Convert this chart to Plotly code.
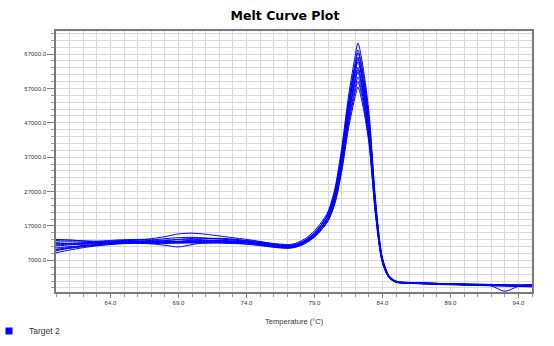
import plotly.graph_objects as go

# Temperature grid (°C)
temperature = [60, 61, 62, 63, 64, 65, 66, 67, 68, 69, 70, 71, 72, 73, 74, 75, 76, 77,
               77.5, 78, 78.5, 79, 79.5, 80, 80.5, 81, 81.5, 82, 82.2, 82.5, 83, 83.5,
               84, 84.5, 85, 85.5, 86, 87, 88, 89, 90, 91, 92, 93, 94, 95]

# Derivative reporter values (thousands), one list per well
well_01 = [12.8, 12.9, 12.7, 12.6, 12.8, 13.0, 13.1, 13.0, 13.3, 13.6, 13.7, 13.5, 13.3, 13.0, 12.8, 12.4, 11.9, 11.6,
           11.8, 12.6, 13.8, 15.6, 18.0, 21.2, 27.8, 39.5, 54.5, 66.5, 70.2, 65.0, 50.5, 24.5,
           7.8, 2.5, 1.0, 0.7, 0.6, 0.5, 0.3, 0.2, 0.1, 0.0, -0.1, -0.2, -0.3, -0.2]
well_02 = [9.2, 10.0, 10.7, 11.2, 11.6, 11.9, 12.1, 12.2, 12.3, 12.5, 12.7, 12.8, 12.7, 12.5, 12.3, 11.9, 11.4, 11.1,
           11.3, 12.0, 13.2, 14.9, 17.3, 20.5, 26.9, 38.2, 53.0, 64.6, 68.2, 63.3, 49.0, 23.6,
           7.5, 2.4, 0.9, 0.6, 0.5, 0.4, 0.3, 0.1, 0.0, -0.1, -0.2, -0.3, -0.4, -0.3]
well_03 = [11.8, 11.9, 12.1, 12.3, 12.4, 12.7, 13.0, 13.3, 13.9, 14.7, 14.9, 14.6, 14.1, 13.6, 13.1, 12.5, 11.8, 11.4,
           11.5, 12.2, 13.4, 15.1, 17.4, 20.6, 26.8, 37.8, 52.4, 63.8, 67.3, 62.4, 48.3, 23.2,
           7.4, 2.3, 0.9, 0.5, 0.4, 0.3, 0.2, 0.1, 0.0, -0.1, -0.2, -0.3, -0.4, -0.4]
well_04 = [10.2, 10.8, 11.3, 11.6, 11.9, 12.1, 12.2, 12.1, 12.2, 12.4, 12.5, 12.4, 12.3, 12.2, 12.0, 11.6, 11.0, 10.7,
           10.9, 11.6, 12.7, 14.3, 16.6, 19.8, 26.0, 37.0, 51.6, 62.8, 66.1, 61.0, 47.4, 22.8,
           7.2, 2.2, 0.8, 0.5, 0.4, 0.2, 0.1, 0.0, -0.1, -0.2, -0.3, -0.4, -0.5, -0.5]
well_05 = [13.1, 12.9, 12.6, 12.4, 12.6, 12.8, 12.7, 12.5, 12.4, 12.5, 12.9, 13.3, 13.4, 13.2, 12.7, 12.1, 11.4, 11.0,
           11.2, 11.9, 13.0, 14.6, 16.8, 19.8, 25.8, 36.4, 50.6, 61.5, 64.7, 59.8, 46.4, 22.3,
           7.0, 2.2, 0.8, 0.6, 0.5, 0.4, 0.3, 0.2, 0.1, 0.0, -0.1, -0.1, -0.2, -0.1]
well_06 = [10.6, 11.0, 11.2, 11.5, 11.8, 12.0, 12.1, 12.3, 12.4, 12.3, 12.1, 12.0, 12.2, 12.3, 12.1, 11.7, 11.2, 10.8,
           11.0, 11.7, 12.7, 14.2, 16.3, 19.2, 25.0, 35.4, 49.4, 60.1, 63.2, 58.4, 45.3, 21.8,
           6.9, 2.1, 0.7, 0.4, 0.3, 0.3, 0.2, 0.1, 0.1, -0.1, -0.4, -2.0, -0.6, -0.6]
well_07 = [12.3, 12.4, 12.3, 12.2, 12.3, 12.5, 12.6, 12.8, 12.9, 13.0, 13.0, 12.9, 12.8, 12.6, 12.4, 12.0, 11.5, 11.2,
           11.4, 12.1, 13.1, 14.6, 16.6, 19.3, 24.8, 34.8, 48.4, 58.8, 61.8, 57.1, 44.3, 21.3,
           6.7, 2.0, 0.7, 0.5, 0.4, 0.2, 0.1, 0.0, -0.1, -0.1, -0.2, -0.3, -0.3, -0.2]
well_08 = [9.8, 10.5, 11.0, 11.4, 11.7, 11.9, 12.0, 11.9, 11.9, 12.0, 12.1, 12.1, 12.0, 11.9, 11.7, 11.3, 10.8, 10.5,
           10.7, 11.3, 12.3, 13.8, 15.8, 18.6, 24.0, 33.8, 47.2, 57.3, 60.3, 55.8, 43.2, 20.8,
           6.5, 2.0, 0.7, 0.4, 0.3, 0.2, 0.0, -0.1, -0.2, -0.3, -0.4, -0.5, -0.6, -0.7]
well_09 = [11.2, 11.5, 11.8, 12.0, 12.1, 12.2, 12.4, 12.6, 12.6, 12.5, 12.4, 12.5, 12.7, 12.6, 12.3, 11.9, 11.3, 11.0,
           11.2, 11.8, 12.7, 14.0, 15.9, 18.4, 23.4, 32.6, 45.2, 54.7, 57.4, 53.2, 41.3, 19.9,
           6.3, 1.9, 0.7, 0.5, 0.4, 0.4, 0.3, 0.2, 0.1, 0.1, 0.0, -0.1, -0.1, 0.0]
well_10 = [11.5, 11.7, 11.9, 12.1, 12.2, 12.4, 12.5, 12.5, 12.7, 13.1, 13.4, 13.4, 13.2, 12.9, 12.6, 12.2, 11.6, 11.3,
           11.5, 12.2, 13.3, 15.0, 17.3, 20.4, 26.4, 37.2, 51.6, 62.4, 65.5, 60.6, 47.0, 22.6,
           7.1, 2.2, 0.8, 0.6, 0.5, 0.3, 0.2, 0.1, 0.0, -0.1, -0.1, -0.2, -0.3, -0.3]
well_11 = [12.0, 11.8, 11.7, 11.8, 12.0, 12.1, 12.0, 11.8, 11.4, 10.9, 11.6, 12.2, 12.5, 12.4, 12.1, 11.7, 11.1, 10.8,
           11.0, 11.7, 12.8, 14.3, 16.4, 19.3, 25.0, 35.3, 49.0, 59.4, 62.5, 57.8, 44.8, 21.6,
           6.8, 2.1, 0.7, 0.5, 0.4, 0.3, 0.2, 0.1, -0.1, -0.2, -0.3, -0.3, -0.4, -0.4]
well_12 = [10.0, 10.6, 11.1, 11.5, 11.8, 12.0, 12.2, 12.2, 12.1, 12.1, 12.2, 12.3, 12.2, 12.0, 11.8, 11.4, 10.9, 10.6,
           10.8, 11.4, 12.4, 13.8, 15.8, 18.5, 23.8, 33.4, 46.4, 56.2, 59.0, 54.6, 42.4, 20.4,
           6.4, 1.9, 0.6, 0.4, 0.3, 0.2, 0.1, 0.0, -0.1, -0.2, -0.2, -0.3, -0.4, -0.4]

wells = [well_01, well_02, well_03, well_04, well_05, well_06,
         well_07, well_08, well_09, well_10, well_11, well_12]

target_name = "Target 2"
x_title = "Temperature (°C)"
line_color = "#0000ff"

fig = go.Figure()
for w in wells:
    fig.add_trace(go.Scatter(
        x=temperature, y=[v * 1000 for v in w], mode="lines",
        line=dict(color=line_color, width=1, shape="spline", smoothing=0.8),
        showlegend=False, hoverinfo="skip"))

# legend entry (square swatch)
fig.add_trace(go.Scatter(
    x=[None], y=[None], mode="markers", name=target_name,
    marker=dict(symbol="square", size=7, color=line_color), showlegend=True))

W, H = 554, 346
L, R, T, B = 56, 532, 31, 292
PW, PH = R - L, B - T

fig.update_layout(
    width=W, height=H,
    margin=dict(l=L, r=W - R, t=T, b=H - B, pad=0, autoexpand=False),
    paper_bgcolor="white", plot_bgcolor="white",
    title=dict(text="<b>Melt Curve Plot</b>", x=285 / W, xanchor="center",
               y=1 - 16 / H, yanchor="middle", yref="container", xref="container",
               font=dict(family="DejaVu Sans", size=12.5, color="#000000")),
    font=dict(family="Liberation Sans", color="#333333"),
    showlegend=True,
    legend=dict(xref="paper", yref="container", x=(-11 - L) / PW, y=1 - 331 / H,
                xanchor="left", yanchor="middle", bgcolor="rgba(0,0,0,0)",
                borderwidth=0, tracegroupgap=0,
                font=dict(family="Liberation Sans", size=8.5, color="#333333"),
                itemwidth=30),
    annotations=[dict(text=x_title, xref="paper", yref="paper",
                      x=(294 - L) / PW, y=(B - 321) / PH, xanchor="center", yanchor="middle",
                      showarrow=False,
                      font=dict(family="Liberation Sans", size=7.6, color="#333333"))],
)

fig.update_xaxes(
    range=[60, 95], tick0=64, dtick=5, tickformat=".1f",
    showgrid=True, gridcolor="#d9d9d9", gridwidth=1,
    ticks="outside", ticklen=4, tickcolor="#7f7f7f", tickwidth=1,
    minor=dict(dtick=1, tick0=60, showgrid=True, gridcolor="#d9d9d9", gridwidth=1,
               ticks="outside", ticklen=3, tickcolor="#9a9a9a"),
    showline=True, mirror=True, linecolor="#7a7a7a", linewidth=1.5,
    tickfont=dict(family="Liberation Sans", size=6, color="#333333"),
    zeroline=False,
)
fig.update_yaxes(
    range=[-2200, 73700], tick0=7000, dtick=10000, tickformat=".1f",
    showgrid=True, gridcolor="#d9d9d9", gridwidth=1,
    ticks="outside", ticklen=7, tickcolor="#7f7f7f", tickwidth=1,
    minor=dict(dtick=2000, tick0=7000, showgrid=True, gridcolor="#d9d9d9", gridwidth=1,
               ticks="outside", ticklen=3, tickcolor="#9a9a9a"),
    showline=True, mirror=True, linecolor="#7a7a7a", linewidth=1.5,
    tickfont=dict(family="Liberation Sans", size=6, color="#333333"),
    zeroline=False,
)

fig.write_html("out.html")
